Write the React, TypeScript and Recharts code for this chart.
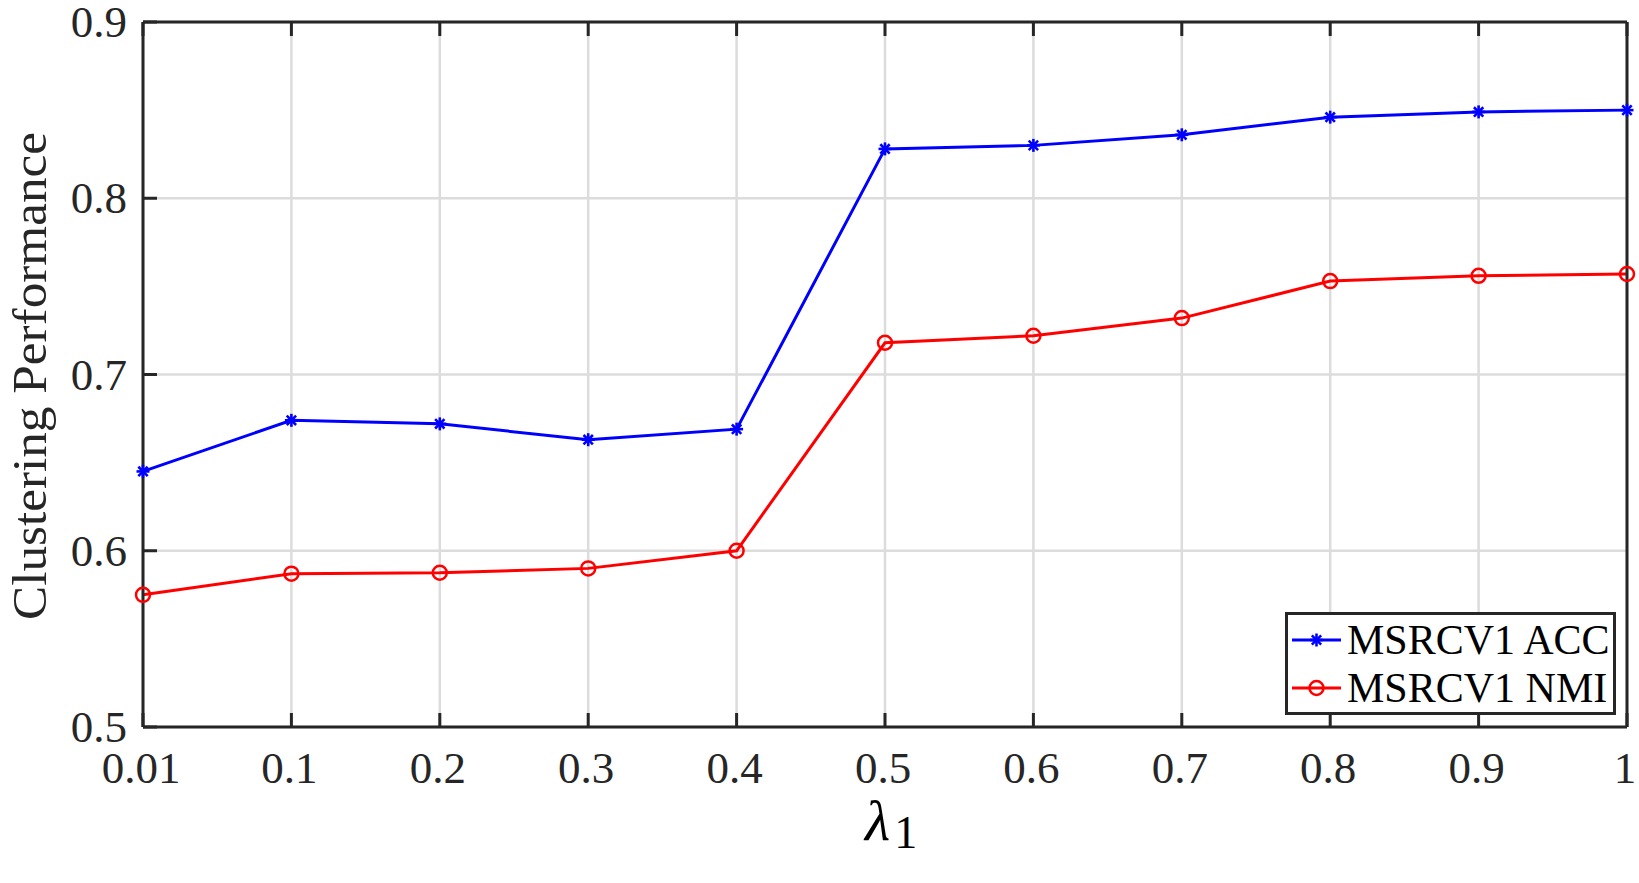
import React from 'react';
import { LineChart, Line, XAxis, YAxis, CartesianGrid, Legend } from 'recharts';

const LAMBDA = ['0.01', '0.1', '0.2', '0.3', '0.4', '0.5', '0.6', '0.7', '0.8', '0.9', '1'];
const ACC = [0.645, 0.674, 0.672, 0.663, 0.669, 0.828, 0.830, 0.836, 0.846, 0.849, 0.850];
const NMI = [0.575, 0.587, 0.5875, 0.590, 0.600, 0.718, 0.722, 0.732, 0.753, 0.756, 0.757];
const Y_TICKS = [0.5, 0.6, 0.7, 0.8, 0.9];
const SERIES_NAMES = ['MSRCV1 ACC', 'MSRCV1 NMI'];

const FONT = '"Liberation Serif", "Times New Roman", serif';
const AXIS = '#262626';
const BLUE = '#0000ff';
const RED = '#ff0000';
const TICK_LEN = 14;

const data = LAMBDA.map((l, i) => ({ lambda: l, acc: ACC[i], nmi: NMI[i] }));

function Asterisk({ cx, cy, color }: { cx: number; cy: number; color: string }) {
  const r = 6.5;
  const d = r * 0.72;
  return (
    <g stroke={color} strokeWidth={2.6}>
      <line x1={cx - r} y1={cy} x2={cx + r} y2={cy} />
      <line x1={cx} y1={cy - r} x2={cx} y2={cy + r} />
      <line x1={cx - d} y1={cy - d} x2={cx + d} y2={cy + d} />
      <line x1={cx - d} y1={cy + d} x2={cx + d} y2={cy - d} />
    </g>
  );
}

function Ring({ cx, cy, color }: { cx: number; cy: number; color: string }) {
  return <circle cx={cx} cy={cy} r={7} fill="none" stroke={color} strokeWidth={2.5} />;
}

const accDot = (p: any) =>
  p.cx == null ? <g key={`a${p.index}`} /> : <g key={`a${p.index}`}><Asterisk cx={p.cx} cy={p.cy} color={BLUE} /></g>;
const nmiDot = (p: any) =>
  p.cx == null ? <g key={`n${p.index}`} /> : <g key={`n${p.index}`}><Ring cx={p.cx} cy={p.cy} color={RED} /></g>;

const BottomTick = ({ x, y, payload }: any) => (
  <g>
    <line x1={x} x2={x} y1={y} y2={y - TICK_LEN} stroke={AXIS} strokeWidth={3} />
    <text x={x - 2} y={y + 56} textAnchor="middle" fontSize={45} fontFamily={FONT} fill={AXIS}>
      {payload.value}
    </text>
  </g>
);

const TopTick = ({ x, y }: any) => (
  <line x1={x} x2={x} y1={y} y2={y + TICK_LEN} stroke={AXIS} strokeWidth={3} />
);

const LeftTick = ({ x, y, payload }: any) => (
  <g>
    <line x1={x} x2={x + TICK_LEN} y1={y} y2={y} stroke={AXIS} strokeWidth={3} />
    <text x={x - 16} y={y + 15} textAnchor="end" fontSize={45} fontFamily={FONT} fill={AXIS}>
      {payload.value}
    </text>
  </g>
);

const RightTick = ({ x, y }: any) => (
  <line x1={x} x2={x - TICK_LEN} y1={y} y2={y} stroke={AXIS} strokeWidth={3} />
);

const XLabel = ({ viewBox }: any) => {
  const cx = viewBox.x + viewBox.width / 2;
  return (
    <text x={cx - 20} y={viewBox.y + 113} fontFamily={FONT} fill="#000">
      <tspan fontSize={58} fontStyle="italic">λ</tspan>
      <tspan fontSize={46} dx={4} dy={8}>1</tspan>
    </text>
  );
};

const YLabel = ({ viewBox }: any) => {
  const x = viewBox.x + 36;
  const cy = viewBox.y + viewBox.height / 2 + 1.5;
  return (
    <text
      x={x}
      y={cy}
      transform={`rotate(-90 ${x} ${cy})`}
      textAnchor="middle"
      fontSize={48}
      fontFamily={FONT}
      fill={AXIS}
      textLength={488}
      lengthAdjust="spacingAndGlyphs"
    >
      Clustering Performance
    </text>
  );
};

const LegendBox = () => (
  <svg width={331} height={103} style={{ display: 'block' }}>
    <rect x={1.5} y={1.5} width={328} height={100} fill="#fff" stroke={AXIS} strokeWidth={3} />
    <line x1={7} x2={56} y1={28} y2={28} stroke={BLUE} strokeWidth={3} />
    <Asterisk cx={31.5} cy={28} color={BLUE} />
    <text x={62} y={42} fontSize={42} fontFamily={FONT} fill="#000">{SERIES_NAMES[0]}</text>
    <line x1={7} x2={56} y1={76} y2={76} stroke={RED} strokeWidth={3} />
    <Ring cx={31.5} cy={76} color={RED} />
    <text x={62} y={90} fontSize={42} fontFamily={FONT} fill="#000">{SERIES_NAMES[1]}</text>
  </svg>
);

export default function App() {
  return (
    <div style={{ position: 'absolute', left: 0, top: 0, width: 1639, height: 883, background: '#fff' }}>
      <LineChart width={1639} height={883} data={data} margin={{ top: 21, right: 11, bottom: 76, left: 10 }}>
        <CartesianGrid xAxisId="bottom" yAxisId="left" stroke="#dcdcdc" strokeWidth={2.5} />
        <XAxis
          xAxisId="bottom"
          dataKey="lambda"
          height={80}
          interval={0}
          tickSize={0}
          tickMargin={0}
          tickLine={false}
          axisLine={{ stroke: AXIS, strokeWidth: 3 }}
          tick={BottomTick}
          label={{ content: XLabel }}
        />
        <XAxis
          xAxisId="top"
          orientation="top"
          dataKey="lambda"
          height={1}
          interval={0}
          tickSize={0}
          tickMargin={0}
          tickLine={false}
          axisLine={{ stroke: AXIS, strokeWidth: 3 }}
          tick={TopTick}
        />
        <YAxis
          yAxisId="left"
          domain={[0.5, 0.9]}
          ticks={Y_TICKS}
          width={133}
          interval={0}
          tickSize={0}
          tickMargin={0}
          tickLine={false}
          axisLine={{ stroke: AXIS, strokeWidth: 3 }}
          tick={LeftTick}
          label={{ content: YLabel }}
        />
        <YAxis
          yAxisId="right"
          orientation="right"
          domain={[0.5, 0.9]}
          ticks={Y_TICKS}
          width={1}
          interval={0}
          tickSize={0}
          tickMargin={0}
          tickLine={false}
          axisLine={{ stroke: AXIS, strokeWidth: 3 }}
          tick={RightTick}
        />
        <Line
          xAxisId="bottom"
          yAxisId="left"
          dataKey="acc"
          name={SERIES_NAMES[0]}
          stroke={BLUE}
          strokeWidth={3}
          dot={accDot}
          activeDot={false}
          isAnimationActive={false}
        />
        <Line
          xAxisId="bottom"
          yAxisId="left"
          dataKey="nmi"
          name={SERIES_NAMES[1]}
          stroke={RED}
          strokeWidth={3}
          dot={nmiDot}
          activeDot={false}
          isAnimationActive={false}
        />
        <Legend
          layout="vertical"
          align="center"
          verticalAlign="middle"
          content={LegendBox}
          wrapperStyle={{ left: 1285, top: 612, width: 331, height: 103 }}
        />
      </LineChart>
    </div>
  );
}
